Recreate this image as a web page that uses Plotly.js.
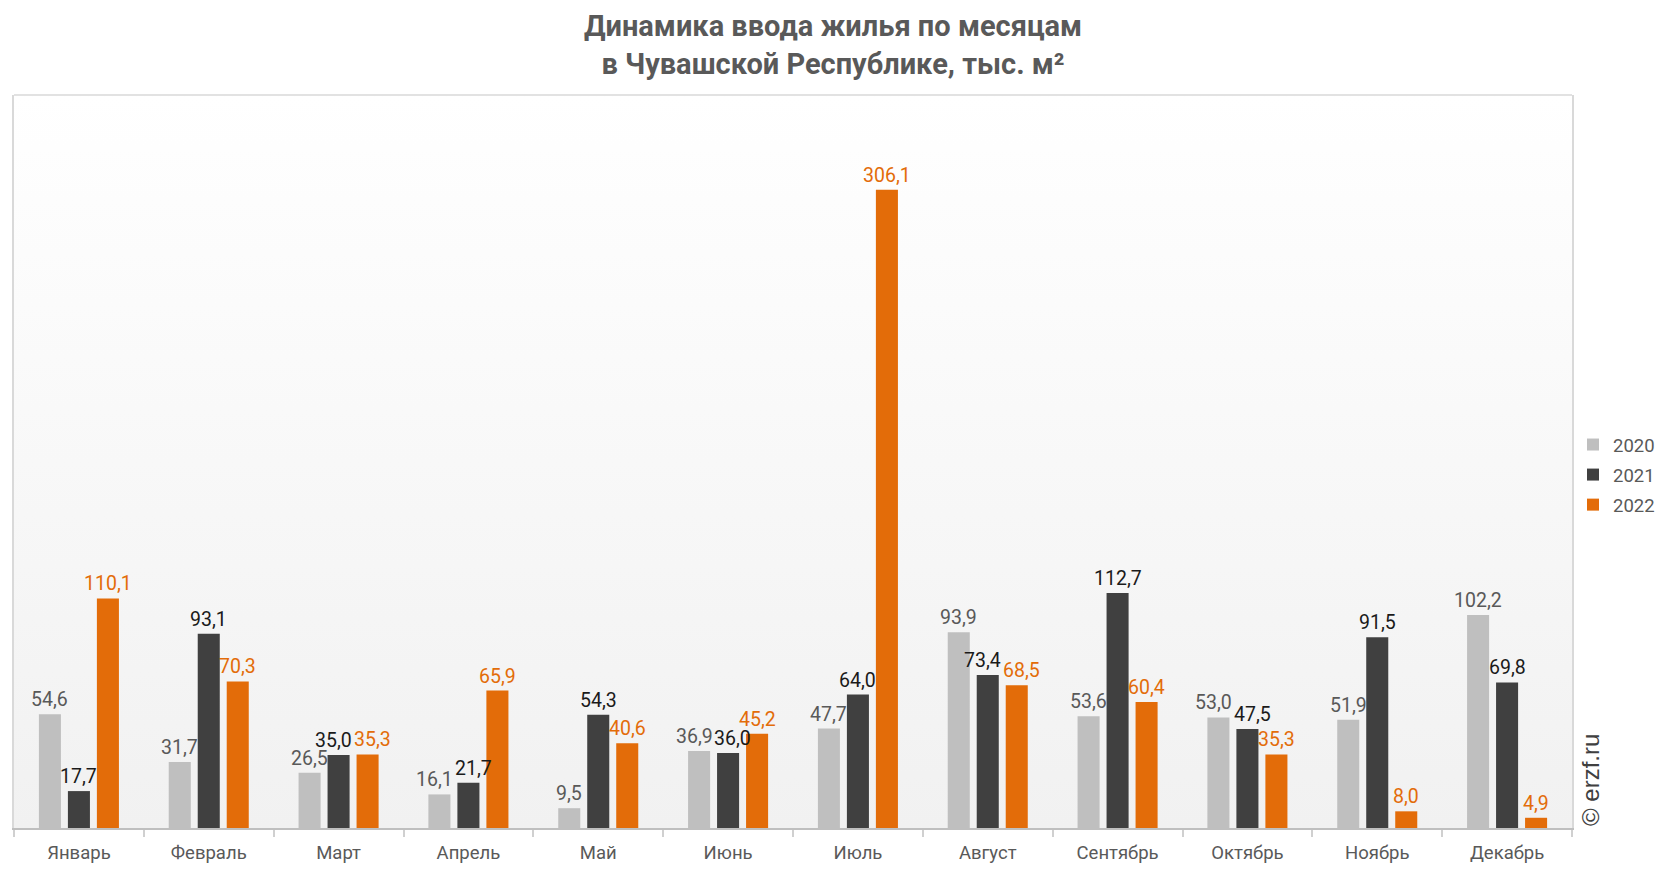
<!DOCTYPE html>
<html>
<head>
<meta charset="utf-8">
<script src="https://cdn.plot.ly/plotly-3.0.1.min.js"></script>
<style>
html,body{margin:0;padding:0;background:#fff;}
#chart{width:1666px;height:872px;}
</style>
</head>
<body>
<div id="chart"></div>
<script>
const months = ['Январь','Февраль','Март','Апрель','Май','Июнь','Июль','Август','Сентябрь','Октябрь','Ноябрь','Декабрь'];
const y2020 = [54.6,31.7,26.5,16.1,9.5,36.9,47.7,93.9,53.6,53.0,51.9,102.2];
const y2021 = [17.7,93.1,35.0,21.7,54.3,36.0,64.0,73.4,112.7,47.5,91.5,69.8];
const y2022 = [110.1,70.3,35.3,65.9,40.6,45.2,306.1,68.5,60.4,35.3,8.0,4.9];
const seriesNames = ['2020','2021','2022'];

const colors = ['#bfbfbf','#404040','#e36c09'];
const textColors = ['#595959','#1a1a1a','#e36c09'];
const font = 'Roboto, "Open Sans", sans-serif';

const W = 1666, H = 872;
const M = {l:14, r:94, t:95, b:44};
const YMAX = 351.5;
const BARGAP = 0.33, BARGROUPGAP = 0.24;
const LABEL_SIZE = 19.5;

const series = [y2020, y2021, y2022];

const traces = series.map((ys,i)=>({
  type:'bar',
  name: seriesNames[i],
  legendgroup: seriesNames[i],
  x: months,
  y: ys,
  marker:{color:colors[i]},
  hoverinfo:'x+y+name'
}));

// data labels as annotations anchored to the data, with simple collision avoidance
const plotW = W - M.l - M.r, plotH = H - M.t - M.b;
const catW = plotW / months.length;
const slot = catW * (1 - BARGAP) / series.length;
const pxPerUnit = plotH / YMAX;
function fmt(v){ return v.toFixed(1).replace('.', ','); }
function textW(s){ let w=0; for (const c of s) w += (c===',' ? 0.25 : 0.56) * LABEL_SIZE; return w; }

const annotations = [];
months.forEach((m, k) => {
  const labels = series.map((ys, i) => {
    const t = fmt(ys[k]);
    return {i, t, v: ys[k], cx: (i - 1) * slot, w: textW(t)};
  });
  for (let pass = 0; pass < 3; pass++) {
    for (let i = 0; i < labels.length - 1; i++) {
      const a = labels[i], b = labels[i+1];
      if (Math.abs(a.v - b.v) * pxPerUnit < 17) {
        const overlap = (a.cx + a.w/2) - (b.cx - b.w/2) + 1;
        if (overlap > 0) { a.cx -= overlap/2; b.cx += overlap/2; }
      }
    }
  }
  labels.forEach(L => {
    annotations.push({
      x: m, y: L.v, xref:'x', yref:'y',
      text: L.t, showarrow:false,
      xanchor:'center', yanchor:'bottom',
      xshift: L.cx, yshift: 1,
      font:{family:font, size:LABEL_SIZE, color:textColors[L.i]}
    });
  });
});

annotations.push({
  text:'© erzf.ru', textangle:-90,
  xref:'paper', yref:'paper', x:(1590 - M.l)/plotW, y:0, xanchor:'center', yanchor:'bottom',
  showarrow:false, font:{family:'"Liberation Sans", Arial, sans-serif', size:24, color:'#404040'}
});

const svg = "<svg xmlns='http://www.w3.org/2000/svg' width='100' height='100' preserveAspectRatio='none'><defs><linearGradient id='g' x1='0' y1='0' x2='0' y2='1'><stop offset='0' stop-color='#ffffff'/><stop offset='1' stop-color='#f1f1f1'/></linearGradient></defs><rect width='100' height='100' fill='url(#g)'/></svg>";

const layout = {
  width:W, height:H,
  margin:M,
  paper_bgcolor:'#ffffff',
  plot_bgcolor:'rgba(0,0,0,0)',
  separators:', ',
  font:{family:font,color:'#595959',size:18},
  title:{
    text:'<b>Динамика ввода жилья по месяцам<br>в Чувашской Республике, тыс. м²</b>',
    x:0.5, xref:'container', xanchor:'center',
    y:1 - 36/H, yref:'container', yanchor:'middle',
    font:{family:font,size:29,color:'#595959'}
  },
  barmode:'group',
  bargap:BARGAP,
  bargroupgap:BARGROUPGAP,
  xaxis:{
    type:'category',
    showline:true, linecolor:'#bfbfbf', linewidth:1.5,
    ticks:'outside', tickson:'boundaries', ticklen:7, tickcolor:'#d0d0d0', tickwidth:1.5,
    ticklabelstandoff:7,
    tickfont:{family:font,size:18.5,color:'#595959'},
    showgrid:false, zeroline:false, fixedrange:true
  },
  yaxis:{
    range:[0,YMAX],
    showticklabels:false, showgrid:false, zeroline:false,
    showline:true, mirror:true, linecolor:'#d9d9d9', linewidth:1.5,
    ticks:'', fixedrange:true
  },
  shapes:[{type:'line',xref:'paper',yref:'paper',x0:0,x1:1,y0:1,y1:1,line:{color:'#d9d9d9',width:1.5}}],
  images:[{
    source:'data:image/svg+xml;charset=utf-8,'+encodeURIComponent(svg),
    xref:'paper',yref:'paper',x:0,y:1,sizex:1,sizey:1,
    xanchor:'left',yanchor:'top',sizing:'stretch',layer:'below'
  }],
  legend:{
    xref:'container', yref:'container',
    x:1573/W, xanchor:'left', y:1 - 475/H, yanchor:'middle',
    font:{family:font,size:18.5,color:'#595959'},
    bgcolor:'rgba(0,0,0,0)', tracegroupgap:3, itemwidth:30
  },
  annotations: annotations
};

Plotly.newPlot('chart', traces, layout, {displayModeBar:false, responsive:false});
</script>
</body>
</html>
